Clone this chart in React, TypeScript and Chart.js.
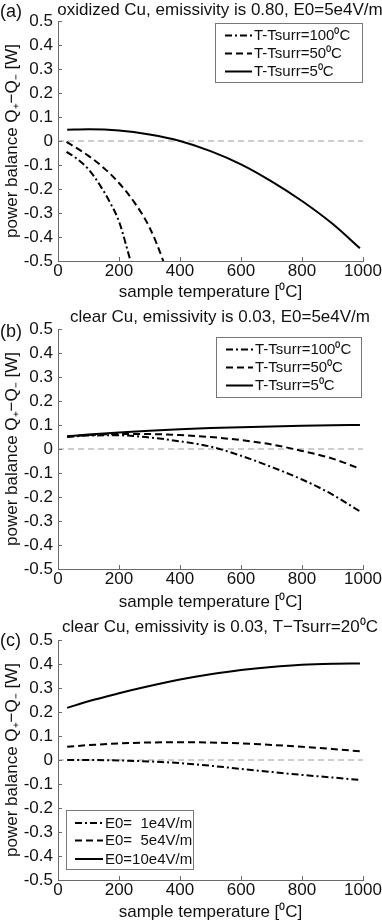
import React, { useEffect, useRef } from 'react';
import { Chart, registerables } from 'chart.js';
Chart.register(...registerables);

const FONT = "'Liberation Sans', Arial, Helvetica, sans-serif";
const AXIS = '#6a6a6a';
const INK = '#111111';

// ---------- data ----------
const zeroT = [0, 1000];
const zeroV = [0, 0];

// Panel (a): oxidized Cu
const aT5 = [30, 100, 200, 300, 400, 500, 600, 700, 800, 900, 990];
const aV5 = [0.047, 0.049, 0.044, 0.027, 0.0, -0.042, -0.097, -0.168, -0.25, -0.345, -0.447];
const aT50 = [28, 72, 100, 150, 200, 250, 300, 345, 355];
const aV50 = [-0.004, -0.038, -0.062, -0.112, -0.175, -0.255, -0.36, -0.5, -0.54];
const aT100 = [28, 60, 100, 138, 170, 200, 238, 248];
const aV100 = [-0.045, -0.072, -0.118, -0.185, -0.255, -0.335, -0.5, -0.54];

// Panel (b): clear Cu, E0=5e4
const bT = [30, 100, 200, 300, 400, 500, 600, 700, 800, 900, 990];
const bV5 = [0.053, 0.06, 0.069, 0.076, 0.082, 0.087, 0.091, 0.094, 0.097, 0.099, 0.1];
const bV50 = [0.052, 0.058, 0.062, 0.062, 0.058, 0.05, 0.037, 0.019, -0.008, -0.04, -0.082];
const bV100 = [0.05, 0.056, 0.057, 0.048, 0.032, 0.01, -0.028, -0.075, -0.127, -0.19, -0.26];

// Panel (c): clear Cu, T-Tsurr=20
const cT = [30, 100, 200, 300, 400, 500, 600, 700, 800, 900, 990];
const cV10 = [0.217, 0.245, 0.278, 0.308, 0.335, 0.357, 0.375, 0.388, 0.397, 0.401, 0.402];
const cV5 = [0.055, 0.062, 0.069, 0.073, 0.074, 0.073, 0.069, 0.063, 0.055, 0.046, 0.036];
const cV1 = [0.0, 0.0, -0.002, -0.006, -0.013, -0.024, -0.037, -0.05, -0.062, -0.073, -0.083];

const xTickStep = 200;
const yTickStep = 0.1;

const legendA = ['T-Tsurr=100\u2070C', 'T-Tsurr=50\u2070C', 'T-Tsurr=5\u2070C'];
const legendC = ['E0=  1e4V/m', 'E0=  5e4V/m', 'E0=10e4V/m'];

// ---------- styles ----------
const DASHDOT = [7, 3, 2, 3];
const DASHED = [7, 4];
const SOLID: number[] = [];

const pts = (t: number[], v: number[]) => t.map((x, i) => ({ x, y: v[i] }));

const curve = (label: string, t: number[], v: number[], dash: number[]) => ({
  label,
  data: pts(t, v),
  borderColor: '#000',
  borderWidth: 2,
  borderDash: dash,
  pointRadius: 0,
  cubicInterpolationMode: 'monotone',
  fill: false,
});

const zeroLine = () => ({
  label: '',
  isRef: true,
  data: pts(zeroT, zeroV),
  borderColor: '#9a9a9a',
  borderWidth: 1,
  borderDash: [6, 4],
  pointRadius: 0,
  fill: false,
});

const panels = [
  {
    key: 'a',
    tag: '(a)',
    tagY: 12,
    title: 'oxidized Cu, emissivity is 0.80, E0=5e4V/m',
    titleY: 10,
    plotTop: 21,
    plotBottom: 261,
    xTitlePad: 5,
    legend: { x: 215, y: 23, w: 147, h: 59, rows: [12.5, 30.5, 48.5], lineX0: 10, lineX1: 37, textX: 39 },
    datasets: [
      curve(legendA[0], aT100, aV100, DASHDOT),
      curve(legendA[1], aT50, aV50, DASHED),
      curve(legendA[2], aT5, aV5, SOLID),
      zeroLine(),
    ],
  },
  {
    key: 'b',
    tag: '(b)',
    tagY: 24,
    title: 'clear Cu, emissivity is 0.03, E0=5e4V/m',
    titleY: 9,
    plotTop: 21,
    plotBottom: 261,
    xTitlePad: 3,
    legend: { x: 216, y: 29, w: 145, h: 60, rows: [12.5, 30.5, 48.5], lineX0: 10, lineX1: 37, textX: 39 },
    datasets: [
      curve(legendA[0], bT, bV100, DASHDOT),
      curve(legendA[1], bT, bV50, DASHED),
      curve(legendA[2], bT, bV5, SOLID),
      zeroLine(),
    ],
  },
  {
    key: 'c',
    tag: '(c)',
    tagY: 25,
    title: 'clear Cu, emissivity is 0.03, T\u2212Tsurr=20\u2070C',
    titleY: 11,
    plotTop: 24,
    plotBottom: 264,
    xTitlePad: 1,
    legend: { x: 66, y: 194, w: 127, h: 59, rows: [13, 30.5, 49], lineX0: 9, lineX1: 37, textX: 39 },
    datasets: [
      curve(legendC[0], cT, cV1, DASHDOT),
      curve(legendC[1], cT, cV5, DASHED),
      curve(legendC[2], cT, cV10, SOLID),
      zeroLine(),
    ],
  },
];

const decorPlugin = {
  id: 'decor',
  afterDraw(chart: any, _args: any, opts: any) {
    const ctx: CanvasRenderingContext2D = chart.ctx;
    const xs = chart.scales.x;
    const ys = chart.scales.y;
    const area = chart.chartArea;
    ctx.save();
    // inward tick marks
    ctx.strokeStyle = AXIS;
    ctx.lineWidth = 1;
    ctx.setLineDash([]);
    for (const t of xs.ticks) {
      const px = Math.round(xs.getPixelForValue(t.value)) + 0.5;
      ctx.beginPath();
      ctx.moveTo(px, area.bottom);
      ctx.lineTo(px, area.bottom - 4);
      ctx.stroke();
    }
    for (const t of ys.ticks) {
      const py = Math.round(ys.getPixelForValue(t.value)) + 0.5;
      ctx.beginPath();
      ctx.moveTo(area.left, py);
      ctx.lineTo(area.left + 4, py);
      ctx.stroke();
    }
    // title & tag
    ctx.fillStyle = INK;
    ctx.textBaseline = 'middle';
    ctx.font = `17px ${FONT}`;
    ctx.textAlign = 'center';
    ctx.fillText(opts.title, 220, opts.titleY);
    ctx.font = `18px ${FONT}`;
    ctx.textAlign = 'left';
    ctx.fillText(opts.tag, 0, opts.tagY);
    // legend
    const L = opts.legend;
    ctx.fillStyle = '#fff';
    ctx.fillRect(L.x, L.y, L.w, L.h);
    ctx.strokeStyle = '#777';
    ctx.lineWidth = 1;
    ctx.strokeRect(L.x + 0.5, L.y + 0.5, L.w, L.h);
    const dsList = chart.data.datasets.filter((d: any) => !d.isRef);
    dsList.forEach((d: any, i: number) => {
      const ry = L.y + L.rows[i];
      ctx.strokeStyle = '#000';
      ctx.lineWidth = 2;
      ctx.setLineDash(d.borderDash || []);
      ctx.beginPath();
      ctx.moveTo(L.x + L.lineX0, ry);
      ctx.lineTo(L.x + L.lineX1, ry);
      ctx.stroke();
      ctx.setLineDash([]);
      ctx.fillStyle = INK;
      ctx.font = `15px ${FONT}`;
      ctx.textAlign = 'left';
      ctx.textBaseline = 'middle';
      ctx.fillText(d.label, L.x + L.textX, ry + 0.5);
    });
    ctx.restore();
  },
};

function Panel({ cfg }: { cfg: any }) {
  const ref = useRef<HTMLCanvasElement>(null);
  useEffect(() => {
    const H = 308;
    const chart = new Chart(ref.current as HTMLCanvasElement, {
      type: 'line',
      data: { datasets: cfg.datasets },
      plugins: [decorPlugin],
      options: {
        animation: false,
        responsive: false,
        devicePixelRatio: 1,
        events: [],
        layout: { padding: { top: cfg.plotTop, right: 19, left: 0, bottom: 0 } },
        plugins: {
          legend: { display: false },
          tooltip: { enabled: false },
          decor: { title: cfg.title, titleY: cfg.titleY, tag: cfg.tag, tagY: cfg.tagY, legend: cfg.legend },
        } as any,
        scales: {
          x: {
            type: 'linear',
            min: 0,
            max: 1000,
            ticks: {
              stepSize: xTickStep,
              font: { family: FONT, size: 17 },
              color: INK,
              padding: 0,
              maxRotation: 0,
              autoSkip: false,
              callback: (v: any) => String(Math.round(Number(v))),
            },
            grid: { display: false, drawTicks: false },
            border: { display: true, color: AXIS, width: 1 },
            title: {
              display: true,
              text: 'sample temperature [\u2070C]',
              font: { family: FONT, size: 17 },
              color: INK,
              padding: { top: 0, bottom: cfg.xTitlePad },
            },
            afterFit: (s: any) => {
              s.height = H - cfg.plotBottom;
            },
          },
          y: {
            type: 'linear',
            min: -0.5,
            max: 0.5,
            ticks: {
              stepSize: yTickStep,
              font: { family: FONT, size: 17 },
              color: INK,
              padding: 5,
              callback: (v: any) => {
                const n = Math.round(Number(v) * 10) / 10;
                return n === 0 ? '0' : String(n);
              },
            },
            grid: { display: false, drawTicks: false },
            border: { display: true, color: AXIS, width: 1 },
            title: {
              display: true,
              text: 'power balance Q\u208A\u2212Q\u208B [W]',
              font: { family: FONT, size: 17 },
              color: INK,
              padding: { top: 2, bottom: 0 },
            },
            afterFit: (s: any) => {
              s.width = 58;
            },
          },
        },
      } as any,
    });
    return () => chart.destroy();
  }, []);
  return (
    <canvas
      ref={ref}
      width={382}
      height={308}
      style={{ display: 'block', width: 382, height: 308 }}
    />
  );
}

export default function App() {
  return (
    <div style={{ position: 'absolute', left: 0, top: 0, width: 382, height: 924, background: '#fff' }}>
      {panels.map((p) => (
        <Panel key={p.key} cfg={p} />
      ))}
    </div>
  );
}
